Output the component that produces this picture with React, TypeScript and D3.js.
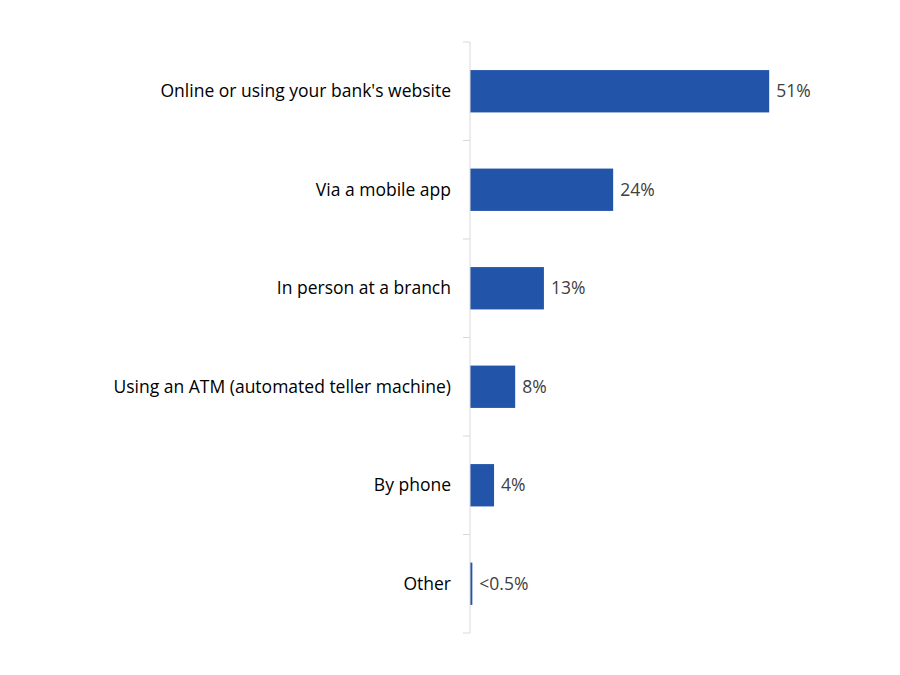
import * as d3 from 'd3';
import * as React from 'react';

const { useRef, useEffect } = React;

const width = 900;
const height = 675;
const margin = { top: 42, right: 78, bottom: 42, left: 470 };

const categories = [
  'Online or using your bank\'s website',
  'Via a mobile app',
  'In person at a branch',
  'Using an ATM (automated teller machine)',
  'By phone',
  'Other',
];
const values = [51, 24.4, 12.6, 7.7, 4.1, 0.4];
const valueLabels = ['51%', '24%', '13%', '8%', '4%', '<0.5%'];

export default function App() {
  const rootRef = useRef<SVGSVGElement>(null);

  useEffect(() => {
    const svgEl = rootRef.current;
    if (!svgEl) return;

    const svg = d3.select(svgEl);
    svg.selectAll('*').remove();

    const x = d3
      .scaleLinear()
      .domain([0, 60])
      .range([margin.left, width - margin.right]);

    const y = d3
      .scaleBand()
      .domain(categories)
      .range([margin.top, height - margin.bottom])
      .paddingInner(0.57)
      .paddingOuter(0.285);

    const font = "'Open Sans', 'Liberation Sans', sans-serif";

    // bars
    svg
      .append('g')
      .selectAll('rect')
      .data(categories)
      .join('rect')
      .attr('x', x(0))
      .attr('y', d => y(d)!)
      .attr('width', (d, i) => x(values[i]) - x(0))
      .attr('height', y.bandwidth())
      .attr('fill', '#2255a9');

    // axis: gray line with ticks between categories
    const yAxis = svg.append('g').attr('transform', `translate(${x(0)},0)`);
    yAxis
      .append('line')
      .attr('x1', 0)
      .attr('x2', 0)
      .attr('y1', margin.top)
      .attr('y2', height - margin.bottom)
      .attr('stroke', '#d9d9d9')
      .attr('stroke-width', 1);

    const step = y.step();
    const boundaries = d3.range(categories.length + 1).map(i => margin.top + i * step);
    yAxis
      .selectAll('line.tick')
      .data(boundaries)
      .join('line')
      .attr('class', 'tick')
      .attr('x1', -7)
      .attr('x2', 0)
      .attr('y1', d => d)
      .attr('y2', d => d)
      .attr('stroke', '#d9d9d9');

    // category labels
    svg
      .append('g')
      .selectAll('text')
      .data(categories)
      .join('text')
      .attr('x', x(0) - 19)
      .attr('y', d => y(d)! + y.bandwidth() / 2)
      .attr('dy', '0.35em')
      .attr('text-anchor', 'end')
      .attr('font-family', font)
      .attr('font-size', 17.5)
      .attr('fill', '#000')
      .text(d => d);

    // value labels
    svg
      .append('g')
      .selectAll('text')
      .data(categories)
      .join('text')
      .attr('x', (d, i) => x(values[i]) + 7)
      .attr('y', d => y(d)! + y.bandwidth() / 2)
      .attr('dy', '0.35em')
      .attr('font-family', font)
      .attr('font-size', 17.5)
      .attr('fill', '#404040')
      .text((d, i) => valueLabels[i]);
  }, []);

  return (
    <svg
      ref={rootRef}
      width={width}
      height={height}
      style={{ position: 'absolute', left: 0, top: 0, background: '#fff' }}
    />
  );
}
